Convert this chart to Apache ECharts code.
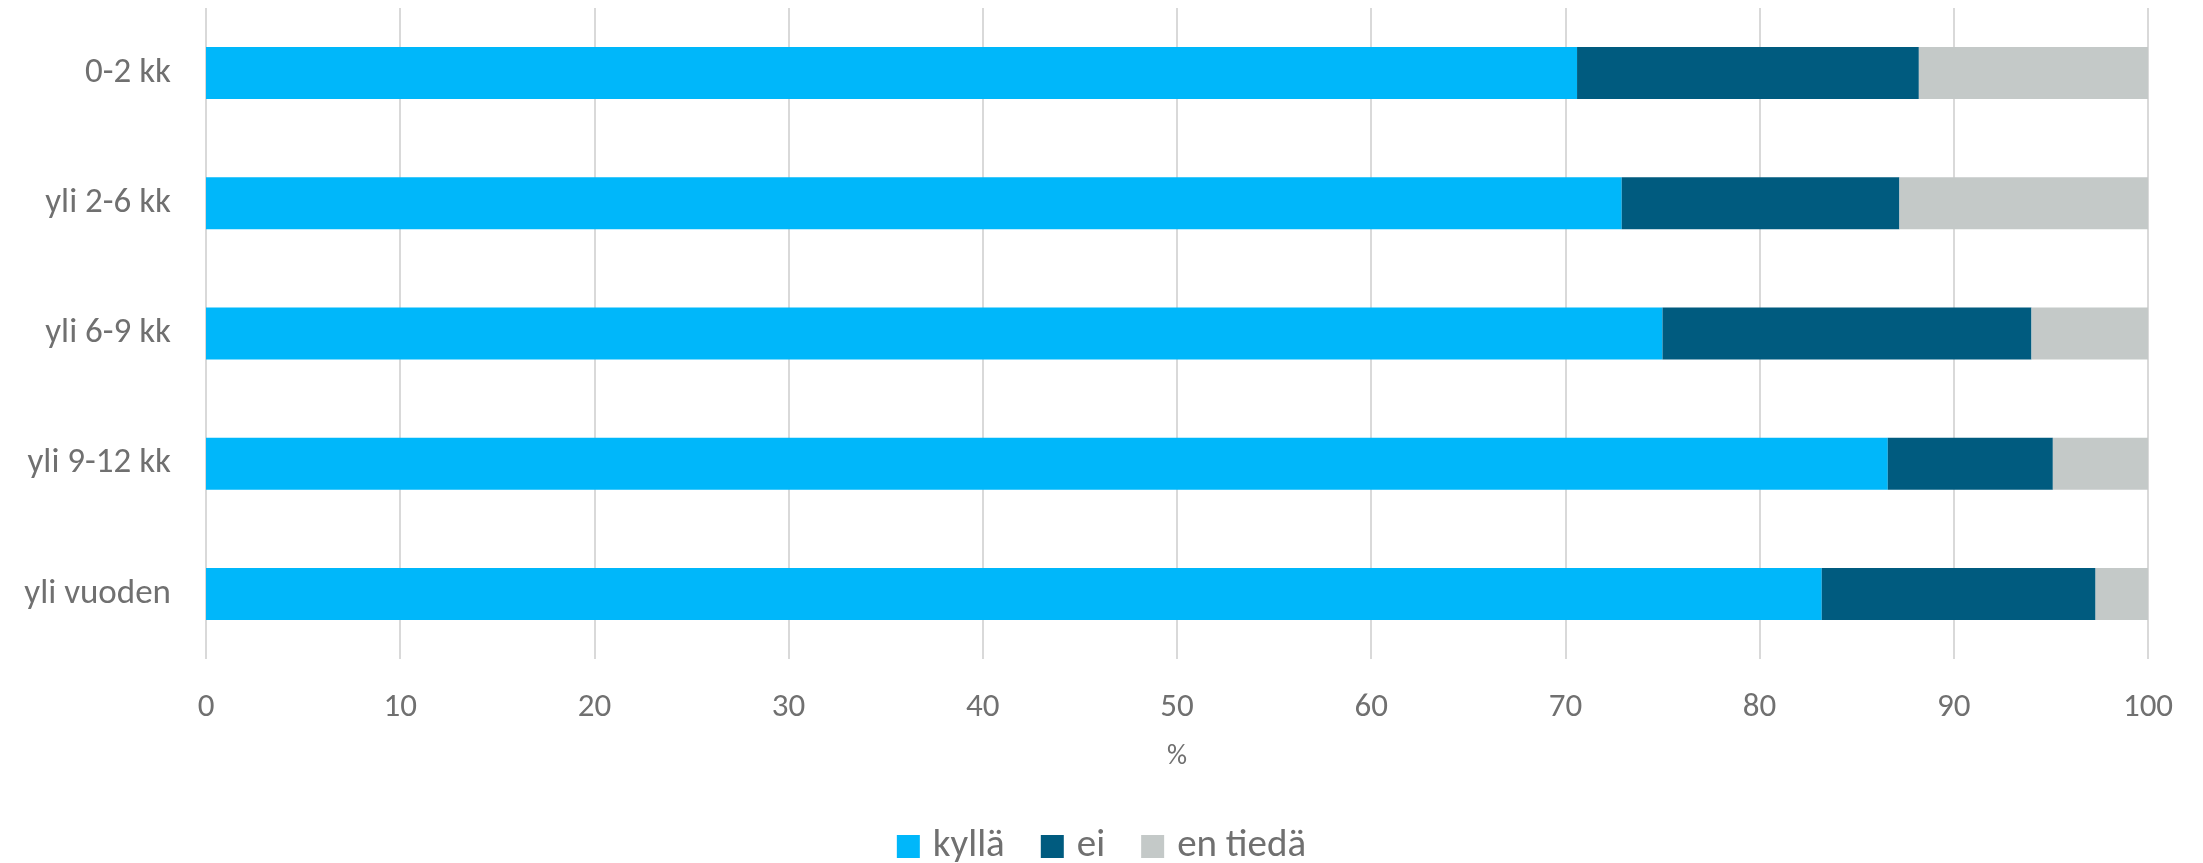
<!DOCTYPE html>
<html>
<head>
<meta charset="utf-8">
<script src="https://cdn.jsdelivr.net/npm/echarts@6/dist/echarts.min.js"></script>
<style>
html,body{margin:0;padding:0;background:#fff;}
#chart{width:2203px;height:863px;}
</style>
</head>
<body>
<div id="chart"></div>
<script>
const categories = ['0-2 kk', 'yli 2-6 kk', 'yli 6-9 kk', 'yli 9-12 kk', 'yli vuoden'];
const seriesNames = ['kyllä', 'ei', 'en tiedä'];
const kylla = [70.6, 72.9, 75.0, 86.6, 83.2];
const ei = [17.6, 14.3, 19.0, 8.5, 14.1];
const enTieda = [11.8, 12.8, 6.0, 4.9, 2.7];
const xTicks = { min: 0, max: 100, interval: 10 };
const axisName = '%';

const colors = ['#00B7FA', '#005B7F', '#C4C9C8'];
const FONT = "Carlito, Lato, 'Open Sans', sans-serif";
const TEXT = '#707070';

const chart = echarts.init(document.getElementById('chart'), null, { renderer: 'canvas' });
const values = [kylla, ei, enTieda];
chart.setOption({
  animation: false,
  backgroundColor: '#ffffff',
  color: colors,
  grid: { left: 206, right: 55, top: 8, bottom: 204, containLabel: false },
  legend: {
    data: seriesNames,
    top: 822,
    left: 'center',
    itemWidth: 23,
    itemHeight: 23,
    itemGap: 36,
    icon: 'rect',
    textStyle: { color: TEXT, fontSize: 39, fontFamily: FONT, padding: [0, 0, 0, 8] }
  },
  xAxis: {
    type: 'value',
    min: xTicks.min, max: xTicks.max, interval: xTicks.interval,
    name: axisName,
    nameLocation: 'middle',
    nameGap: 84,
    nameTextStyle: { color: TEXT, fontSize: 28, fontFamily: FONT },
    axisLine: { show: false },
    axisTick: { show: false },
    axisLabel: { color: TEXT, fontSize: 33, fontFamily: FONT, margin: 32 },
    splitLine: { show: true, lineStyle: { color: '#d9d9d9', width: 2 } }
  },
  yAxis: {
    type: 'category',
    inverse: true,
    data: categories,
    axisLine: { show: false },
    axisTick: { show: false },
    axisLabel: { color: TEXT, fontSize: 35, fontFamily: FONT, margin: 35 }
  },
  series: seriesNames.map((n, i) => ({
    name: n,
    type: 'bar',
    stack: 'total',
    barWidth: 52,
    data: values[i],
    itemStyle: { color: colors[i] }
  }))
});
</script>
</body>
</html>
